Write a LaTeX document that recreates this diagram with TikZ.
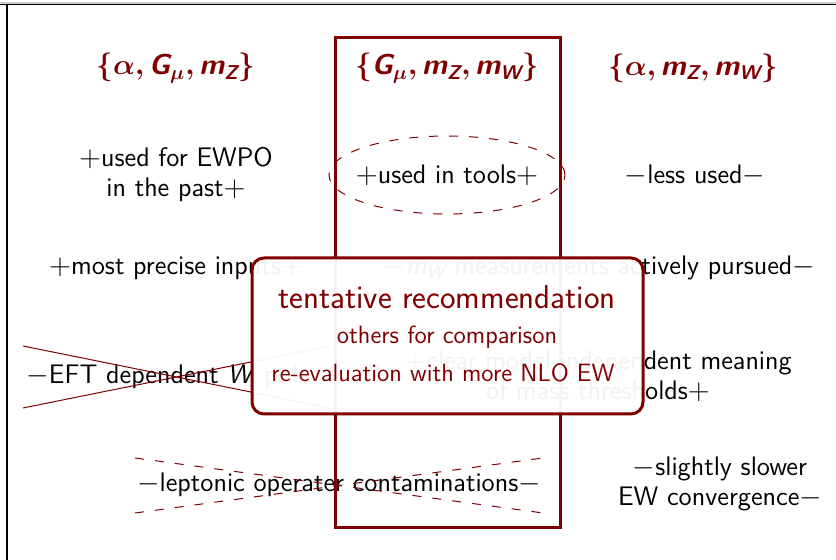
\documentclass[tikz,border=0pt]{standalone}
\usepackage{amsmath,bm}
\definecolor{dred}{RGB}{128,0,0}
\newcommand{\sfsl}[1]{\textsf{\slshape #1}}
\newcommand{\sfbsl}[1]{\textsf{\bfseries\slshape #1}}
\tikzset{
  txt/.style={font=\fontsize{13.4}{15}\selectfont\sffamily, align=center},
  hdr/.style={font=\Large\sffamily\bfseries, text=dred},
  cross/.style={draw=dred, line width=0.5pt},
  dcross/.style={draw=dred, line width=0.5pt, dash pattern=on 4.5pt off 5.5pt},
}
\begin{document}
\begin{tikzpicture}[x=0.5pt,y=-0.5pt]
  \useasboundingbox (0,0) rectangle (836,560);
  \draw[gray!40, line width=0.8pt] (0,3.2) -- (836,3.2);
  \draw[line width=0.5pt] (0,4.4) -- (836,4.4);
  \draw[line width=0.6pt] (7,4) -- (7,560);

  \node[hdr] (h1) at (176,68) {$\bm{\{}\bm{\alpha}\bm{,}\sfbsl{G}_{\bm{\mu}}\bm{,}\sfbsl{m}_{\sfbsl{Z}}\bm{\}}$};
  \node[hdr] (h2) at (447,68) {$\bm{\{}\sfbsl{G}_{\bm{\mu}}\bm{,}\sfbsl{m}_{\sfbsl{Z}}\bm{,}\sfbsl{m}_{\sfbsl{W}}\bm{\}}$};
  \node[hdr] (h3) at (693,68) {$\bm{\{}\bm{\alpha}\bm{,}\sfbsl{m}_{\sfbsl{Z}}\bm{,}\sfbsl{m}_{\sfbsl{W}}\bm{\}}$};

  \node[txt] (a1) at (176,175) {$+$used for EWPO\\in the past$+$};
  \node[txt] (b1) at (447,175) {$+$used in tools$+$};
  \node[txt] (c1) at (695,175) {$-$less used$-$};

  \node[txt] (a2) at (176,268) {$+$most precise inputs$+$};
  \node[txt] (b2) at (599,268) {$-\sfsl{m}_{\sfsl{W}}$ measurements actively pursued$-$};

  \node[txt] (a3) at (168,377) {$-$EFT dependent \sfsl{W} pole};
  \node[txt] (b3) at (598,376) {$+$clear model-independent meaning\\of mass thresholds$+$};

  \node[txt] (a4) at (339,485) {$-$leptonic operater contaminations$-$};
  \node[txt] (c4) at (720,484) {$-$slightly slower\\EW convergence$-$};

  \draw[cross] (23,346) -- (330,408);
  \draw[cross] (23,408) -- (330,346);
  \draw[dcross] (135,458) -- (543,513);
  \draw[dcross] (135,513) -- (543,458);
  \draw[dcross] (b1) ellipse [x radius=59pt, y radius=19.5pt];

  \draw[dred, line width=1.5pt] (335,38) rectangle (560,528);

  \node[draw=dred, line width=1.5pt, fill=white, fill opacity=0.95, rounded corners=6pt,
        minimum width=195.5pt, minimum height=78pt] (box) at (447.5,336) {};
  \node[font=\fontsize{16.5}{18}\selectfont\sffamily, text=dred] (rec) at (447,297) {tentative recommendation};
  \node[font=\fontsize{12.5}{15}\selectfont\sffamily, text=dred] (oth) at (447,337) {others for comparison};
  \node[font=\fontsize{12.5}{15}\selectfont\sffamily, text=dred] (nlo) at (443,373) {re-evaluation with more NLO EW};
\end{tikzpicture}
\end{document}
